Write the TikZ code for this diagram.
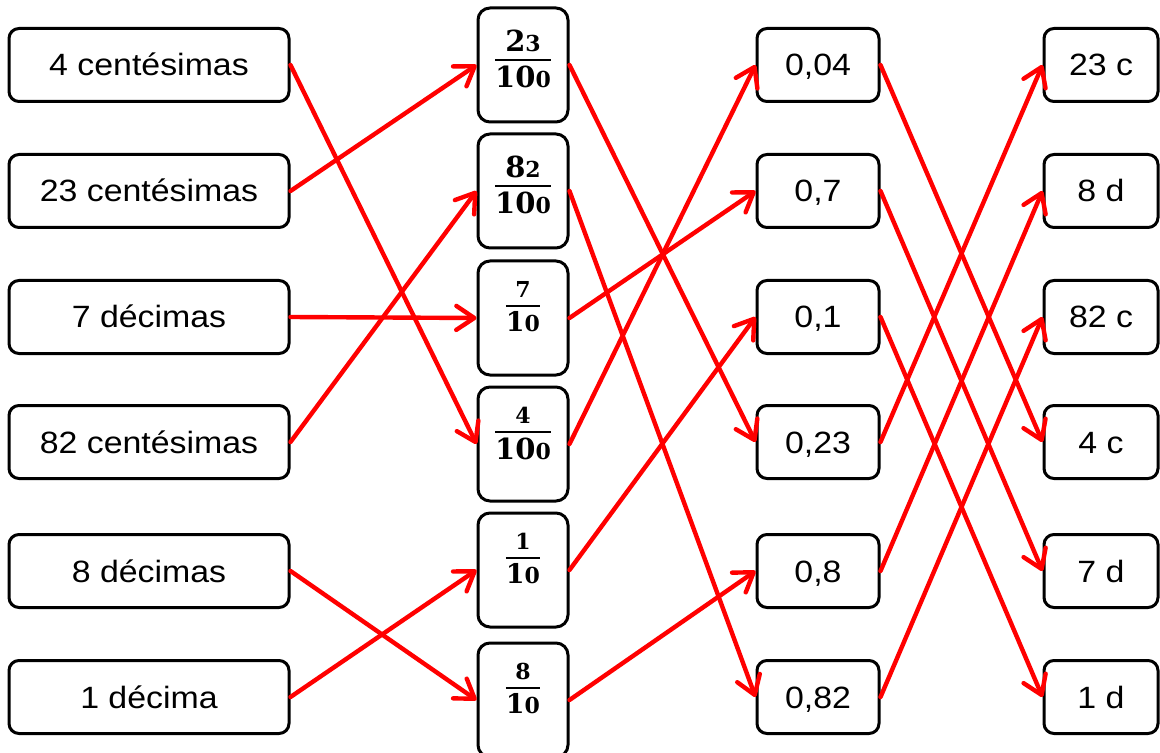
\documentclass[tikz,border=0pt]{standalone}
\usepackage{amsmath}
\usepackage{fontspec}
\setmainfont{Liberation Sans}[FakeStretch=1.1]
\newfontfamily\fracfont{DejaVu Serif}
\usetikzlibrary{arrows.meta}

\tikzset{
  caja/.style={draw=black,line width=1.5pt,rounded corners=5pt,inner sep=0pt,
    minimum height=36.5pt,text height=11pt,text depth=0pt,
    font=\fontsize{15.4}{18}\selectfont},
  fraccion/.style={draw=black,line width=1.5pt,rounded corners=6pt,inner sep=0pt,
    minimum width=45pt,minimum height=57pt},
  flecha/.style={red,line width=2.2pt,line cap=round,
    -{Straight Barb[length=9pt,width=12pt,line cap=round,line join=round]}}
}

\newcommand{\dga}[1]{{\fracfont\bfseries\fontsize{14.5}{16}\selectfont #1}}
\newcommand{\dgb}[1]{{\fracfont\bfseries\fontsize{11}{12}\selectfont #1}}
\newcommand{\dgc}[1]{{\fracfont\bfseries\fontsize{13.5}{15}\selectfont #1}}
\newcommand{\dgd}[1]{{\fracfont\bfseries\fontsize{11}{12}\selectfont #1}}
\newcommand{\fr}[3]{\raisebox{#3}[0pt][0pt]{$\genfrac{}{}{0.8pt}{0}{\hbox{#1}}{\hbox{#2}}$}}

\begin{document}
\begin{tikzpicture}[x=0.5pt,y=-0.5pt]
\useasboundingbox (0,0) rectangle (1160,753);

\node[caja,minimum width=140pt] (L1) at (149,65) {4 centésimas};
\node[caja,minimum width=140pt] (L2) at (149,191) {23 centésimas};
\node[caja,minimum width=140pt] (L3) at (149,317) {7 décimas};
\node[caja,minimum width=140pt] (L4) at (149,442) {82 centésimas};
\node[caja,minimum width=140pt] (L5) at (149,571) {8 décimas};
\node[caja,minimum width=140pt] (L6) at (149,697) {1 décima};

\node[fraccion] (F1) at (523,65) {\fr{\dga{2}\dgb{3}}{\dga{10}\dgb{0}}{0pt}};
\node[fraccion] (F2) at (523,191) {\fr{\dga{8}\dgb{2}}{\dga{10}\dgb{0}}{0pt}};
\node[fraccion] (F3) at (523,318) {\fr{\dgd{7}}{\dgc{1}\dgd{0}}{3.5pt}};
\node[fraccion] (F4) at (523,444) {\fr{\dgd{4}}{\dga{10}\dgb{0}}{3.5pt}};
\node[fraccion] (F5) at (523,570) {\fr{\dgd{1}}{\dgc{1}\dgd{0}}{3.5pt}};
\node[fraccion] (F6) at (523,700) {\fr{\dgd{8}}{\dgc{1}\dgd{0}}{3.5pt}};

\node[caja,minimum width=61pt] (D1) at (818,65) {0,04};
\node[caja,minimum width=61pt] (D2) at (818,191) {0,7};
\node[caja,minimum width=61pt] (D3) at (818,317) {0,1};
\node[caja,minimum width=61pt] (D4) at (818,442) {0,23};
\node[caja,minimum width=61pt] (D5) at (818,571) {0,8};
\node[caja,minimum width=61pt] (D6) at (818,697) {0,82};

\node[caja,minimum width=57pt] (R1) at (1101,65) {23 c};
\node[caja,minimum width=57pt] (R2) at (1101,191) {8 d};
\node[caja,minimum width=57pt] (R3) at (1101,317) {82 c};
\node[caja,minimum width=57pt] (R4) at (1101,442) {4 c};
\node[caja,minimum width=57pt] (R5) at (1101,571) {7 d};
\node[caja,minimum width=57pt] (R6) at (1101,697) {1 d};

\draw[flecha] (L1.east) -- (F4.west);
\draw[flecha] (L2.east) -- (F1.west);
\draw[flecha] (L3.east) -- (F3.west);
\draw[flecha] (L4.east) -- (F2.west);
\draw[flecha] (L5.east) -- (F6.west);
\draw[flecha] (L6.east) -- (F5.west);

\draw[flecha] (F1.east) -- (D4.west);
\draw[flecha] (F2.east) -- (D6.west);
\draw[flecha] (F3.east) -- (D2.west);
\draw[flecha] (F4.east) -- (D1.west);
\draw[flecha] (F5.east) -- (D3.west);
\draw[flecha] (F6.east) -- (D5.west);

\draw[flecha] (D1.east) -- (R4.west);
\draw[flecha] (D2.east) -- (R5.west);
\draw[flecha] (D3.east) -- (R6.west);
\draw[flecha] (D4.east) -- (R1.west);
\draw[flecha] (D5.east) -- (R2.west);
\draw[flecha] (D6.east) -- (R3.west);
\end{tikzpicture}
\end{document}
